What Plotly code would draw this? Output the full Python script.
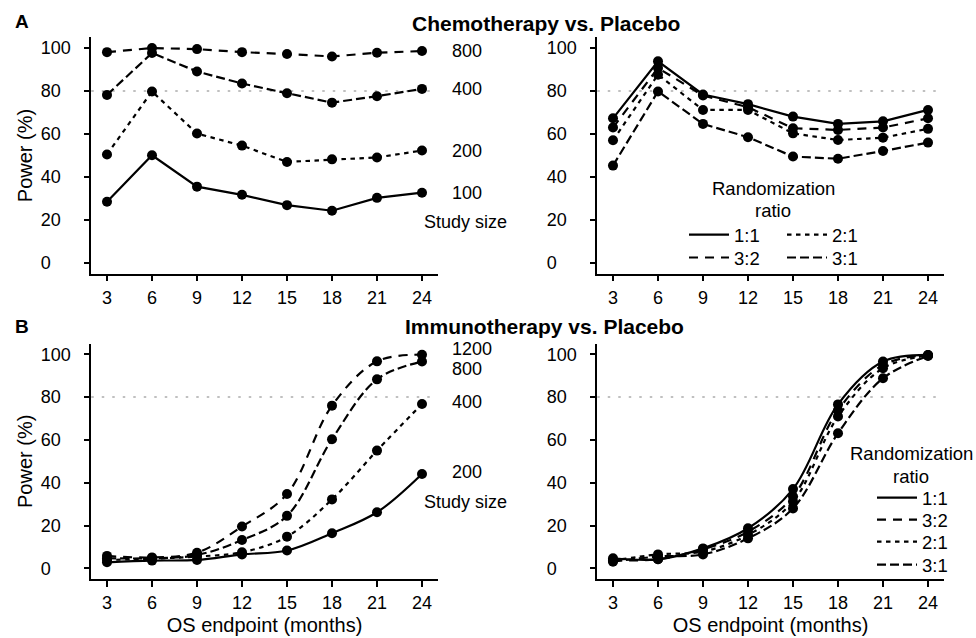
import plotly.graph_objects as go

# ---------------- data ----------------
months = [3, 6, 9, 12, 15, 18, 21, 24]
y_ticks = [0, 20, 40, 60, 80, 100]

# A: Chemotherapy vs. Placebo, by study size (1:1)
chemo_sizes = ["100", "200", "400", "800"]
chemo_n100 = [28.5, 50.1, 35.5, 31.7, 26.9, 24.3, 30.3, 32.7]
chemo_n200 = [50.5, 79.8, 60.2, 54.6, 47.0, 48.2, 49.1, 52.3]
chemo_n400 = [78.2, 97.7, 89.1, 83.5, 79.0, 74.6, 77.6, 81.0]
chemo_n800 = [98.1, 100.0, 99.5, 98.1, 97.2, 96.1, 97.8, 98.6]

# A: Chemotherapy vs. Placebo, by randomization ratio
ratios = ["1:1", "3:2", "2:1", "3:1"]
chemo_r11 = [67.3, 93.8, 78.4, 73.9, 68.1, 64.7, 65.9, 71.2]
chemo_r32 = [63.0, 90.7, 77.9, 72.5, 62.7, 61.9, 63.0, 67.3]
chemo_r21 = [57.1, 87.6, 71.2, 71.2, 60.3, 57.2, 58.3, 62.4]
chemo_r31 = [45.3, 79.8, 64.7, 58.5, 49.5, 48.5, 52.1, 56.0]

# B: Immunotherapy vs. Placebo, by study size
immuno_sizes = ["200", "400", "800", "1200"]
immuno_n200 = [2.8, 3.6, 3.9, 6.5, 8.3, 16.4, 26.2, 44.1]
immuno_n400 = [3.9, 4.5, 5.5, 7.5, 14.8, 32.2, 55.0, 76.8]
immuno_n800 = [4.7, 4.7, 6.2, 13.2, 24.5, 60.3, 88.3, 96.6]
immuno_n1200 = [5.8, 5.1, 7.3, 19.5, 34.7, 76.0, 96.7, 99.8]

# B: Immunotherapy vs. Placebo, by randomization ratio
immuno_r11 = [4.7, 4.2, 9.3, 18.7, 37.0, 76.6, 96.6, 99.7]
immuno_r32 = [3.9, 4.2, 8.9, 17.1, 33.5, 73.8, 95.0, 99.7]
immuno_r21 = [3.6, 6.5, 7.8, 15.6, 31.2, 70.9, 93.5, 99.4]
immuno_r31 = [3.1, 5.5, 6.5, 14.0, 28.0, 63.1, 88.8, 99.2]

target_power = 80

# ---------------- style ----------------
W, H = 976, 638
FONT = "Liberation Sans, Arial, Helvetica, sans-serif"
DASHES = ["solid", "4.5px,4.5px", "9px,4px", "9px,7px"]  # level 1..4
RATIO_DASH = {"1:1": DASHES[0], "3:2": DASHES[3], "2:1": DASHES[1], "3:1": DASHES[2]}
LW = 2.2
MS = 10


def px_x(p):
    return p / W


def px_y(p):
    return 1 - p / H


XL = [px_x(91.25), px_x(437.75)]
XR = [px_x(597.25), px_x(943.75)]
YT = [px_y(273.7), px_y(37.3)]
YB = [px_y(579.0), px_y(343.6)]

fig = go.Figure()


def add_series(xa, ya, y, dash, shape, name=None, legend=None):
    show = legend is not None
    fig.add_trace(go.Scatter(
        x=months, y=y, mode="lines", xaxis=xa, yaxis=ya,
        line=dict(color="black", width=LW, dash=dash, shape=shape, smoothing=1.0),
        name=name, showlegend=show, legend=legend if show else "legend",
        hoverinfo="skip"))
    fig.add_trace(go.Scatter(
        x=months, y=y, mode="markers", xaxis=xa, yaxis=ya,
        marker=dict(color="black", size=MS), showlegend=False,
        hoverinfo="skip"))


# legend slots: one legend per entry so every entry sits where the reference has it
# (line-start x px, row-centre y px)
top_slots = {"1:1": (684, 235), "3:2": (684, 258), "2:1": (782, 235), "3:1": (782, 258)}
bot_slots = {"1:1": (872, 498), "3:2": (872, 520), "2:1": (872, 542), "3:1": (872, 565)}
legend_ids = {}
legend_layout = {}
legend_common = dict(font=dict(size=18.5, color="black", family=FONT), bgcolor="rgba(0,0,0,0)",
                     borderwidth=0, orientation="v", xanchor="left", yanchor="middle",
                     itemwidth=40, tracegroupgap=0, itemclick=False, itemdoubleclick=False)
k = 1
for panel, slots in [("top", top_slots), ("bot", bot_slots)]:
    for r in ratios:
        lid = "legend" if k == 1 else f"legend{k}"
        legend_ids[(panel, r)] = lid
        sx, sy = slots[r]
        legend_layout[lid] = dict(x=px_x(sx), y=px_y(sy), **legend_common)
        k += 1

# Panel A left
for vals, d in zip([chemo_n100, chemo_n200, chemo_n400, chemo_n800], DASHES):
    add_series("x", "y", vals, d, "linear")
# Panel A right
for r, vals in zip(ratios, [chemo_r11, chemo_r32, chemo_r21, chemo_r31]):
    add_series("x2", "y2", vals, RATIO_DASH[r], "linear", name=r, legend=legend_ids[("top", r)])
# Panel B left
for vals, d in zip([immuno_n200, immuno_n400, immuno_n800, immuno_n1200], DASHES):
    add_series("x3", "y3", vals, d, "spline")
# Panel B right
for r, vals in zip(ratios, [immuno_r11, immuno_r32, immuno_r21, immuno_r31]):
    add_series("x4", "y4", vals, RATIO_DASH[r], "spline", name=r, legend=legend_ids[("bot", r)])

# ---------------- axes ----------------
# left-aligned tick labels: pad shorter labels with invisible digits
tick_text = [str(v) + (f"<span style='color:rgba(0,0,0,0)'>{'0' * (3 - len(str(v)))}</span>"
                       if len(str(v)) < 3 else "") for v in y_ticks]

xcommon = dict(range=[1.95, 25.05], tickvals=months, showline=True, linecolor="black",
               linewidth=1.5, ticks="outside", ticklen=6, tickwidth=1.5, tickcolor="black",
               showgrid=False, zeroline=False, tickfont=dict(size=18, color="black"),
               ticklabelstandoff=1, fixedrange=True)
ycommon = dict(range=[-5, 105], tickvals=y_ticks, ticktext=tick_text, showline=True,
               linecolor="black", linewidth=1.5, ticks="outside", ticklen=6, tickwidth=1.5,
               tickcolor="black", showgrid=False, zeroline=False,
               tickfont=dict(size=18, color="black"), ticklabelstandoff=9, fixedrange=True)
xtitle = dict(text="OS endpoint (months)", font=dict(size=20, color="black"), standoff=6)
ytitle = dict(text="Power (%)", font=dict(size=20, color="black"), standoff=3)

fig.update_layout(
    xaxis=dict(domain=XL, anchor="y", **xcommon),
    yaxis=dict(domain=YT, anchor="x", title=ytitle, **ycommon),
    xaxis2=dict(domain=XR, anchor="y2", **xcommon),
    yaxis2=dict(domain=YT, anchor="x2", **ycommon),
    xaxis3=dict(domain=XL, anchor="y3", title=xtitle, **xcommon),
    yaxis3=dict(domain=YB, anchor="x3", title=ytitle, **ycommon),
    xaxis4=dict(domain=XR, anchor="y4", title=xtitle, **xcommon),
    yaxis4=dict(domain=YB, anchor="x4", **ycommon),
    **legend_layout,
)

# 80% power reference lines
for xa, ya in [("x", "y"), ("x2", "y2"), ("x3", "y3"), ("x4", "y4")]:
    fig.add_shape(type="line", xref=f"{xa} domain", yref=ya, x0=0, x1=1,
                  y0=target_power, y1=target_power, layer="below",
                  line=dict(color="#c0c0c0", width=2, dash="2.5px,8px"))

# ---------------- annotations ----------------
ann = []


def text(x, y, s, size=18, bold=False, xanchor="center", yanchor="middle", xref="paper", yref="paper"):
    ann.append(dict(x=x, y=y, xref=xref, yref=yref, text=f"<b>{s}</b>" if bold else s,
                    showarrow=False, xanchor=xanchor, yanchor=yanchor,
                    font=dict(size=size, color="black", family=FONT)))


text(px_x(13), px_y(22), "A", size=19, bold=True, xanchor="left")
text(px_x(545.5), px_y(23), "Chemotherapy vs. Placebo", size=21, bold=True)
text(px_x(13), px_y(327), "B", size=19, bold=True, xanchor="left")
text(px_x(544), px_y(327), "Immunotherapy vs. Placebo", size=21, bold=True)

# study size direct labels
lab_x = (450 - 91.25) / 346.5
for lab, vals in zip(chemo_sizes, [chemo_n100, chemo_n200, chemo_n400, chemo_n800]):
    text(lab_x, vals[-1], lab, xanchor="left", xref="x domain", yref="y")
text((465.5 - 91.25) / 346.5, 19, "Study size", xref="x domain", yref="y")

offsets = [1.0, 1.0, -3.5, 2.5]
for lab, vals, off in zip(immuno_sizes, [immuno_n200, immuno_n400, immuno_n800, immuno_n1200], offsets):
    text(lab_x, vals[-1] + off, lab, xanchor="left", xref="x3 domain", yref="y3")
text((465.5 - 91.25) / 346.5, 31, "Study size", xref="x3 domain", yref="y3")

# legend titles
text(px_x(773), px_y(188), "Randomization", size=18.5)
text(px_x(773), px_y(210), "ratio", size=18.5)
text(px_x(911), px_y(453), "Randomization", size=18.5)
text(px_x(911), px_y(476), "ratio", size=18.5)

fig.update_layout(
    annotations=ann,
    width=W, height=H,
    margin=dict(l=0, r=0, t=0, b=0),
    paper_bgcolor="white", plot_bgcolor="white",
    font=dict(family=FONT, color="black"),
    hovermode=False,
)

fig.write_html("out.html", config={"displayModeBar": False, "staticPlot": False},
               post_script="document.body.style.margin='0';")
